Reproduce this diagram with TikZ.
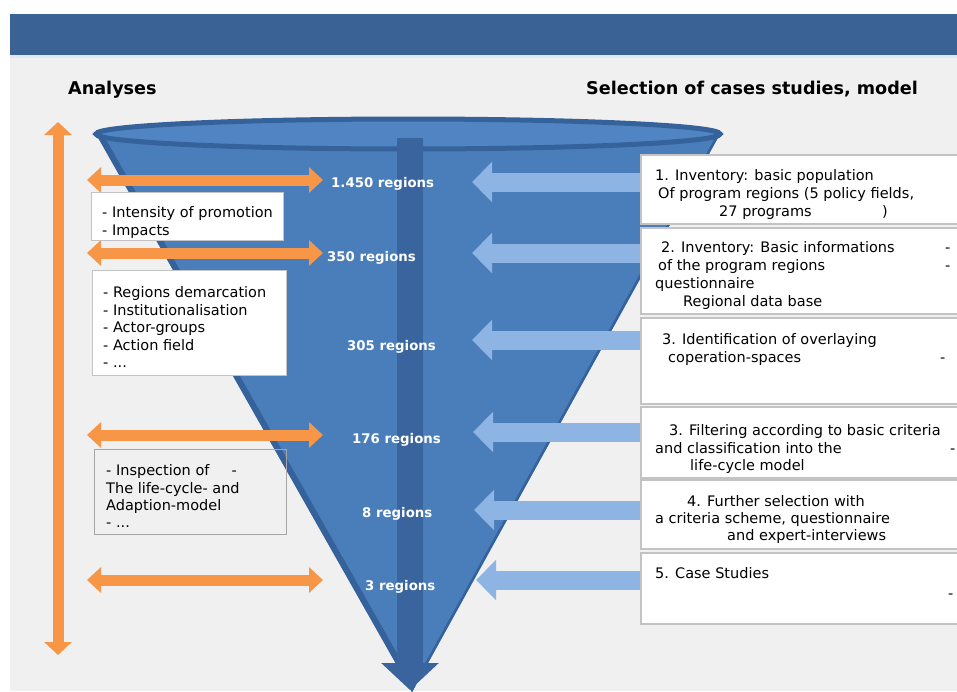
\documentclass[tikz,border=0pt]{standalone}
\usepackage{fontspec}
\setmainfont{DejaVu Sans}
\usetikzlibrary{arrows.meta}
\definecolor{bandblue}{RGB}{58,98,148}
\definecolor{bggray}{RGB}{240,240,240}
\definecolor{funnelfill}{RGB}{74,126,187}
\definecolor{funneledge}{RGB}{54,98,156}
\definecolor{rimfill}{RGB}{80,132,194}
\definecolor{shaftblue}{RGB}{58,100,158}
\definecolor{flow}{RGB}{247,150,70}
\definecolor{feed}{RGB}{142,180,227}
\definecolor{boxline}{RGB}{195,195,195}
\tikzset{
  txt/.style={anchor=base west, inner sep=0pt, font=\fontsize{14.5}{17.8}\selectfont, text=black},
  ttl/.style={anchor=base west, inner sep=0pt, font=\fontsize{17.6}{20}\selectfont\bfseries, text=black},
  reg/.style={anchor=base west, inner sep=0pt, font=\fontsize{13.3}{15}\selectfont\bfseries, text=white},
  whitebox/.style={draw=boxline, line width=1.4pt, fill=white, inner sep=0pt, anchor=north west},
  openbox/.style={draw=boxline!85!black, line width=1.4pt, inner sep=0pt, anchor=north west},
  bothways/.style={draw=flow, line width=11pt,
    {Triangle[length=14pt,width=25pt]}-{Triangle[length=14pt,width=25pt]}},
  feedarrow/.style={draw=feed, line width=19pt, -{Triangle[length=20pt,width=39pt]}},
  downarrow/.style={draw=shaftblue, line width=26pt, -{Triangle[length=27pt,width=56pt]}},
}
\begin{document}
\begin{tikzpicture}[x=1pt,y=-1pt]
% page and header band
\fill[white] (0,0) rectangle (957,691);
\useasboundingbox (0,0) rectangle (957,691);
\fill[bggray] (10,55) rectangle (957,691);
\fill[bandblue] (10,14) rectangle (957,55);
\fill[bandblue!15!white] (10,55) rectangle (957,58);

% titles
\node[ttl] (analyses) at (68,94) {Analyses};
\node[ttl] (selection) at (586,94) {Selection of cases studies, model};

% funnel body, shaded sides and rim
\coordinate (rimL) at (96,134);
\coordinate (rimR) at (720,134);
\coordinate (tip) at (412,692);
\fill[funnelfill] (rimL) -- (rimR) -- (tip) -- cycle;
\begin{scope}
  \clip (rimL) -- (rimR) -- (tip) -- cycle;
  \draw[funneledge, line width=12pt] (rimL) -- (tip);
  \draw[funneledge, line width=5pt] (rimR) -- (tip);
\end{scope}
\fill[rimfill, draw=funneledge, line width=5pt] (408,134) ellipse [x radius=312, y radius=15];

% central flow through the funnel
\coordinate (shaftTop) at (410,138);
\coordinate (shaftEnd) at (410,690);
\draw[downarrow] (shaftTop) -- (shaftEnd);

% case-selection boxes (right)
\node[whitebox, minimum width=330pt, minimum height=68pt] (b1) at (641,155) {};
\node[whitebox, minimum width=330pt, minimum height=85pt] (b2) at (641,228) {};
\node[whitebox, minimum width=330pt, minimum height=85pt] (b3) at (641,318) {};
\node[whitebox, minimum width=330pt, minimum height=70pt] (b4) at (641,407) {};
\node[whitebox, minimum width=330pt, minimum height=68pt] (b5) at (641,480) {};
\node[whitebox, minimum width=330pt, minimum height=70pt] (b6) at (641,553) {};

% feed arrows from the boxes into the funnel
\coordinate (f1) at (472,182);
\coordinate (f2) at (472,253);
\coordinate (f3) at (472,340);
\coordinate (f4) at (473,432);
\coordinate (f5) at (474,510);
\coordinate (f6) at (476,580);
\foreach \i in {1,...,6} {
  \draw[feedarrow] (f\i -| b\i.west) -- (f\i);
}
% redraw the box frames over the arrow roots
\foreach \i in {1,...,6} {
  \draw[boxline, line width=1.4pt] (b\i.north west) rectangle (b\i.south east);
}

% analysis arrows (left)
\coordinate (a1L) at (87,180);  \coordinate (a1R) at (323,180);
\coordinate (a2L) at (87,253);  \coordinate (a2R) at (323,253);
\coordinate (a3L) at (87,435);  \coordinate (a3R) at (323,435);
\coordinate (a4L) at (87,580);  \coordinate (a4R) at (323,580);
\foreach \i in {1,...,4} {
  \draw[bothways] (a\i L) -- (a\i R);
}
\coordinate (vTop) at (58,122);
\coordinate (vBot) at (58,655);
\draw[draw=flow, line width=11pt,
  {Triangle[length=13pt,width=27pt]}-{Triangle[length=13pt,width=27pt]}] (vTop) -- (vBot);

% analysis boxes
\node[whitebox, minimum width=192pt, minimum height=48pt] (la) at (91,192) {};
\node[whitebox, minimum width=194pt, minimum height=105pt] (lb) at (92,270) {};
\node[openbox, minimum width=192pt, minimum height=85pt] (lc) at (94,449) {};

% region counts
\node[reg] (r1) at (331,187) {1.450 regions};
\node[reg] (r2) at (327,261) {350 regions};
\node[reg] (r3) at (347,350) {305 regions};
\node[reg] (r4) at (352,443) {176 regions};
\node[reg] (r5) at (362,517) {8 regions};
\node[reg] (r6) at (365,590) {3 regions};

% texts of the analysis boxes
\node[txt] (la1) at (102,217) {- Intensity of promotion};
\node[txt] (la2) at (102,235) {- Impacts};
\node[txt] (lb1) at (103,297) {- Regions demarcation};
\node[txt] (lb2) at (103,315) {- Institutionalisation};
\node[txt] (lb3) at (103,332) {- Actor-groups};
\node[txt] (lb4) at (103,350) {- Action field};
\node[txt] (lb5) at (103,367) {- ...};
\node[txt] (lc1) at (106,475) {- Inspection of\hspace{22pt}-};
\node[txt] (lc2) at (106,493) {The life-cycle- and};
\node[txt] (lc3) at (106,510) {Adaption-model};
\node[txt] (lc4) at (106,527) {- ...};

% texts of the selection boxes
\node[txt] (t11) at (655,180) {1. Inventory: basic population};
\node[txt] (t12) at (658,198) {Of program regions (5 policy fields,};
\node[txt] (t13) at (719,216) {27 programs};
\node[txt] (t14) at (882,216) {)};
\node[txt] (t21) at (661,252) {2. Inventory: Basic informations};
\node[txt] (t22) at (945,252) {-};
\node[txt] (t23) at (658,270) {of the program regions};
\node[txt] (t24) at (945,270) {-};
\node[txt] (t25) at (655,288) {questionnaire};
\node[txt] (t26) at (683,306) {Regional data base};
\node[txt] (t31) at (662,344) {3. Identification of overlaying};
\node[txt] (t32) at (668,362) {coperation-spaces};
\node[txt] (t33) at (940,362) {-};
\node[txt] (t41) at (669,435) {3. Filtering according to basic criteria};
\node[txt] (t42) at (655,453) {and classification into the};
\node[txt] (t43) at (950,453) {-};
\node[txt] (t44) at (690,470) {life-cycle model};
\node[txt] (t51) at (687,506) {4. Further selection with};
\node[txt] (t52) at (655,523) {a criteria scheme, questionnaire};
\node[txt] (t53) at (727,540) {and expert-interviews};
\node[txt] (t61) at (655,578) {5. Case Studies};
\node[txt] (t62) at (948,598) {-};
\end{tikzpicture}
\end{document}
